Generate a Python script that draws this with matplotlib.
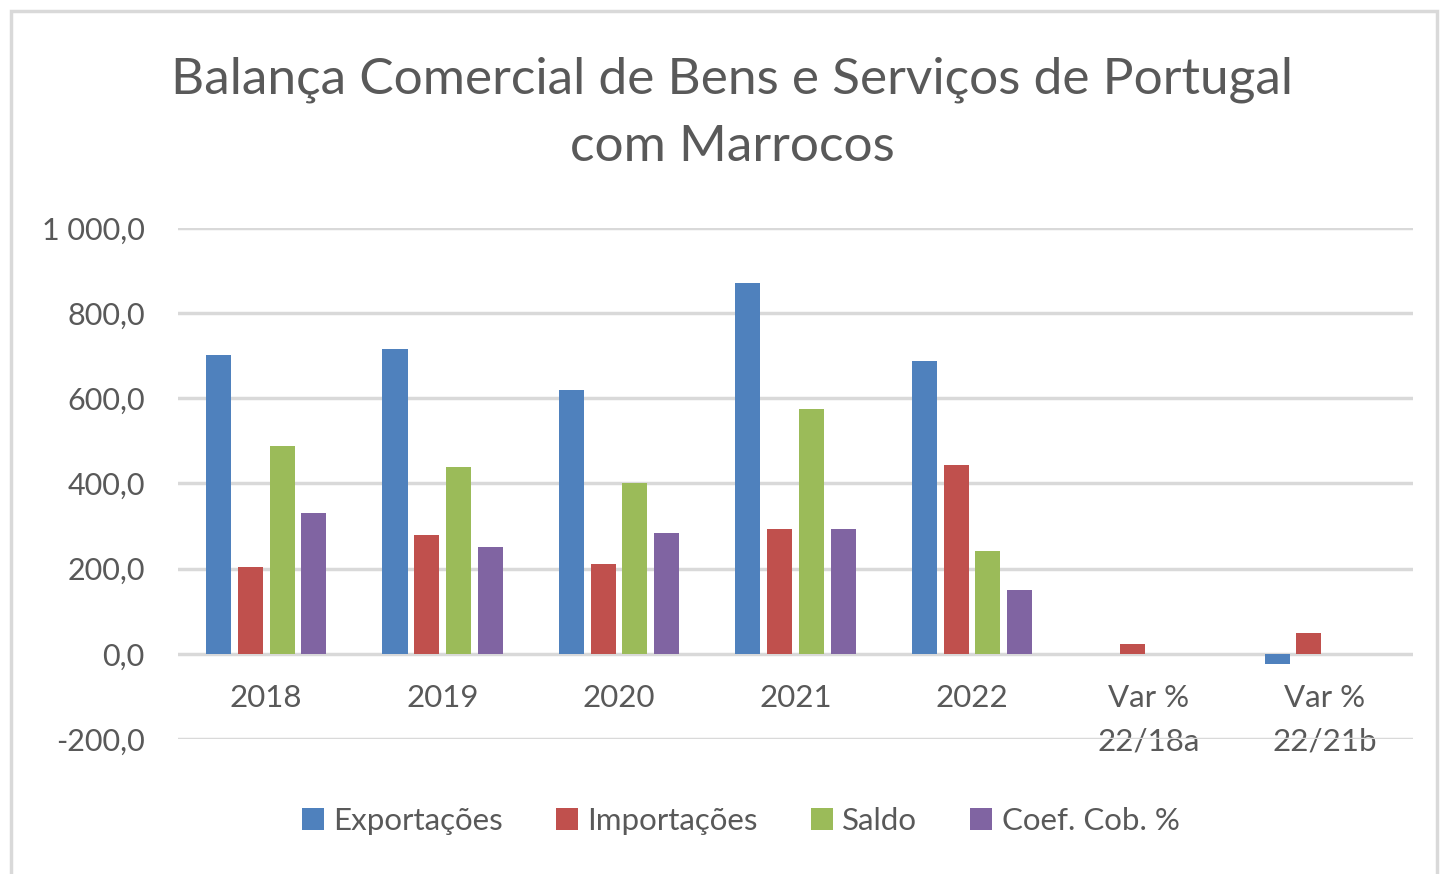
import numpy as np
import matplotlib
matplotlib.use("Agg")
import matplotlib.pyplot as plt
from matplotlib.patches import Rectangle, Patch
from matplotlib.ticker import FuncFormatter

# valores (milhoes EUR / %)
categorias = ["2018", "2019", "2020", "2021", "2022", "Var %\n22/18a", "Var %\n22/21b"]
exportacoes = [701, 716, 620, 871, 688, 0, -24]
importacoes = [205, 279, 210, 293, 444, 22, 48]
saldo = [489, 439, 402, 574, 242, 0, 0]
coef_cob = [330, 251, 284, 293, 150, 0, 0]

series = [
    ("Exportações", exportacoes, "#4F81BD"),
    ("Importações", importacoes, "#C0504D"),
    ("Saldo", saldo, "#9BBB59"),
    ("Coef. Cob. %", coef_cob, "#8064A2"),
]

plt.rcParams['font.family'] = ['Lato', 'DejaVu Sans']
texto = "#595959"

fig = plt.figure(figsize=(14.41, 8.74), dpi=100)
fig.patch.set_facecolor("white")

# moldura do grafico
fig.patches.append(Rectangle((11 / 1441, -0.01), 1426 / 1441, 1 - 11 / 874 + 0.01,
                             transform=fig.transFigure, fill=False,
                             edgecolor="#d9d9d9", linewidth=2.5))

ax = fig.add_axes([178 / 1441, 1 - 739 / 874, 1235 / 1441, 511 / 874])

x = np.arange(len(categorias))
passo = 0.18
largura = 0.142
for i, (nome, vals, cor) in enumerate(series):
    ax.bar(x + (i - 1.5) * passo, vals, width=largura, color=cor,
           linewidth=0, zorder=3, label=nome)

ax.set_xlim(-0.5, len(categorias) - 0.5)
ax.set_ylim(-200, 1000)
ax.set_yticks(np.arange(-200, 1001, 200))
ax.yaxis.set_major_formatter(FuncFormatter(
    lambda v, p: f"{v:,.1f}".replace(",", " ").replace(".", ",")))
ax.grid(axis="y", color="#d9d9d9", linewidth=2.5, zorder=0)
ax.set_axisbelow(True)
for s in ax.spines.values():
    s.set_visible(False)
# rotulos das categorias junto da linha do zero
ax.spines["bottom"].set_position(("data", 0))
ax.tick_params(axis="both", length=0, labelcolor=texto)
ax.tick_params(axis="y", pad=24, labelsize=22)
ax.tick_params(axis="x", pad=22, labelsize=22.5)
ax.set_xticks(x)
ax.set_xticklabels(categorias, linespacing=1.65)

fig.text(0.508, 1 - 80 / 874, "Balança Comercial de Bens e Serviços de Portugal",
         ha="center", va="center", fontsize=37, color=texto)
fig.text(0.508, 1 - 147 / 874, "com Marrocos",
         ha="center", va="center", fontsize=37, color=texto)

handles = [Patch(facecolor=c, edgecolor="none", label=n) for n, _, c in series]
fig.legend(handles=handles, loc="center", bbox_to_anchor=(0.514, 1 - 821 / 874),
           ncol=4, frameon=False, fontsize=22.5, labelcolor=texto,
           handlelength=0.7, handleheight=0.7, handletextpad=0.3,
           columnspacing=1.7)

fig.savefig("out.png", dpi=100, facecolor="white")
